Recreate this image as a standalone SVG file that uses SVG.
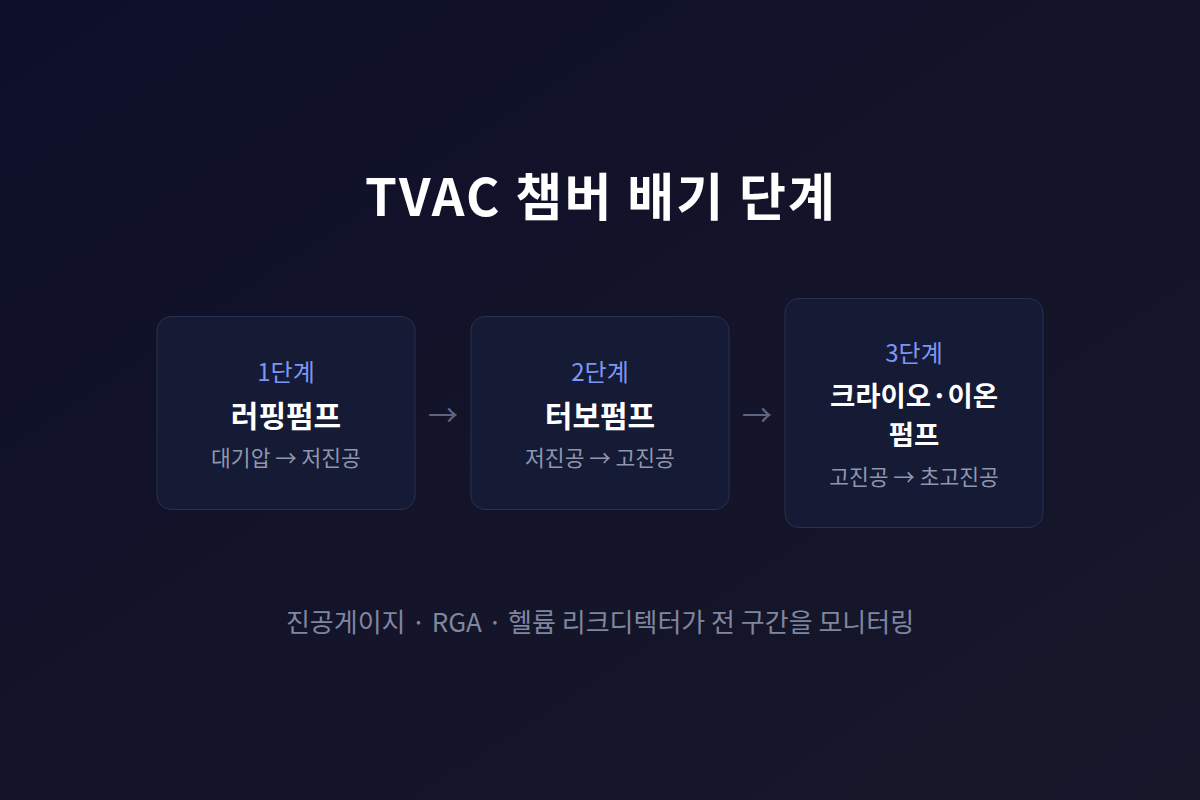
<svg xmlns="http://www.w3.org/2000/svg" width="1200" height="800" viewBox="0 0 1200 800">
<defs>
<linearGradient id="bg" x1="0" y1="0" x2="1" y2="1">
<stop offset="0" stop-color="#0e1029"/>
<stop offset="1" stop-color="#18172a"/>
</linearGradient>
<style>
.box{fill:#151a35;stroke:#2a3050;stroke-width:1}
.step{font-family:"Noto Sans CJK KR","Noto Sans",sans-serif;font-size:24px;fill:#7d95f5;text-anchor:middle}
.name{font-family:"Noto Sans CJK KR","Noto Sans",sans-serif;font-size:30px;font-weight:700;fill:#ffffff;text-anchor:middle}
.name2{font-family:"Noto Sans CJK KR","Noto Sans",sans-serif;font-size:27.5px;font-weight:700;fill:#ffffff;text-anchor:middle}
.sub{font-family:"Noto Sans CJK KR","Noto Sans",sans-serif;font-size:21.5px;fill:#9097ad;text-anchor:middle}
.arrow{font-family:"Noto Sans CJK KR","DejaVu Sans",sans-serif;font-size:30px;fill:#5f6580;text-anchor:middle}
</style>
</defs>
<rect width="1200" height="800" fill="url(#bg)"/>
<text x="600" y="216" font-family="'Noto Sans CJK KR','Noto Sans',sans-serif" font-size="51" font-weight="700" fill="#ffffff" text-anchor="middle" textLength="470">TVAC 챔버 배기 단계</text>
<g id="connectors">
<text class="arrow" x="443" y="426">→</text>
<text class="arrow" x="757" y="426">→</text>
</g>
<g id="stage1">
<rect class="box" x="157" y="316.5" width="258" height="193" rx="14"/>
<text class="step" x="286" y="381">1단계</text>
<text class="name" x="286" y="427">러핑펌프</text>
<text class="sub" x="286" y="466">대기압 → 저진공</text>
</g>
<g id="stage2">
<rect class="box" x="471" y="316.5" width="258" height="193" rx="14"/>
<text class="step" x="600" y="381">2단계</text>
<text class="name" x="600" y="427">터보펌프</text>
<text class="sub" x="600" y="466">저진공 → 고진공</text>
</g>
<g id="stage3">
<rect class="box" x="785" y="298.5" width="258" height="229" rx="14"/>
<text class="step" x="914" y="362">3단계</text>
<text class="name2" x="914" y="406">크라이오·이온</text>
<text class="name2" x="914" y="445">펌프</text>
<text class="sub" x="914" y="485">고진공 → 초고진공</text>
</g>
<text x="600" y="632" font-family="'Noto Sans CJK KR','Noto Sans',sans-serif" font-size="26" fill="#7f86a0" text-anchor="middle">진공게이지 · RGA · 헬륨 리크디텍터가 전 구간을 모니터링</text>
</svg>
